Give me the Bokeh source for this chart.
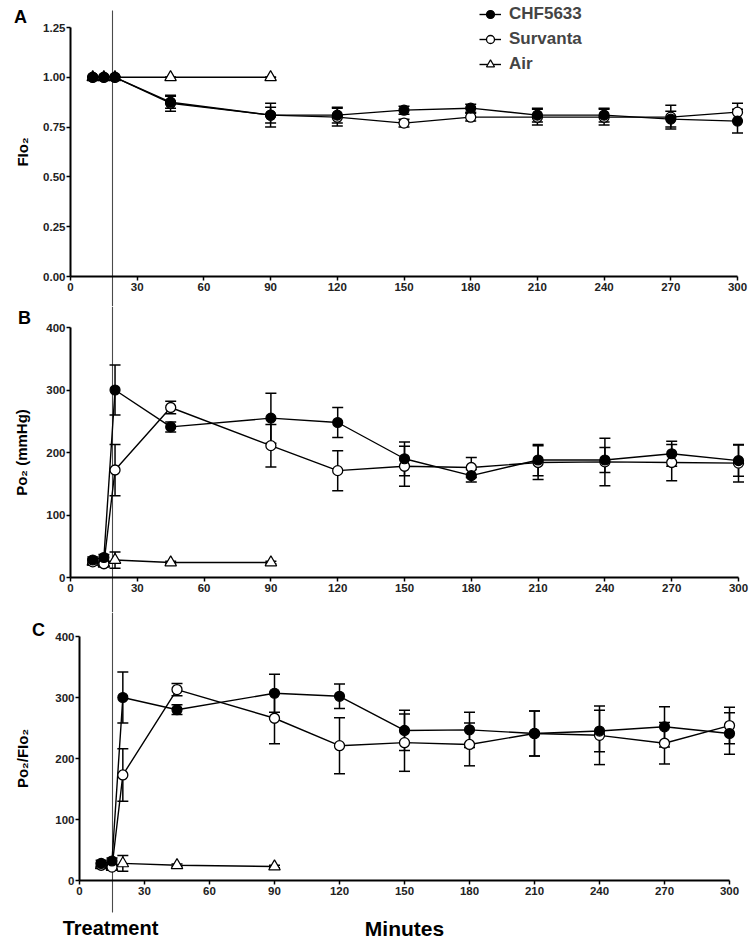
from bokeh.plotting import figure
from bokeh.models import (Range1d, FixedTicker, PrintfTickFormatter, Whisker, TeeHead,
                          ColumnDataSource, Legend, LegendItem, Label, BoxAnnotation)
from bokeh.layouts import column
from bokeh.embed import file_html
from bokeh.resources import INLINE

# ---------------- data ----------------
minutes = [10, 15, 20, 45, 90, 120, 150, 180, 210, 240, 270, 300]
air_minutes = [10, 15, 20, 45, 90]

fio2_chf = [1.0, 1.0, 1.0, 0.875, 0.81, 0.81, 0.835, 0.845, 0.81, 0.81, 0.79, 0.78]
fio2_chf_sem = [0, 0, 0, 0.03, 0.06, 0.04, 0.02, 0.02, 0.035, 0.035, 0.04, 0.06]
fio2_surv = [1.0, 1.0, 1.0, 0.87, 0.81, 0.80, 0.77, 0.80, 0.80, 0.80, 0.80, 0.825]
fio2_surv_sem = [0, 0, 0, 0.04, 0.04, 0.045, 0.02, 0.02, 0.04, 0.04, 0.06, 0.045]
fio2_air = [1.0, 1.0, 1.0, 1.0, 1.0]
fio2_air_sem = [0, 0, 0, 0, 0]

po2_chf = [28, 32, 300, 241, 255, 248, 190, 163, 188, 188, 198, 187]
po2_chf_sem = [5, 5, 40, 8, 40, 24, 27, 10, 25, 20, 20, 25]
po2_surv = [25, 22, 172, 272, 211, 171, 178, 176, 184, 185, 184, 183]
po2_surv_sem = [5, 4, 41, 10, 34, 32, 32, 16, 27, 38, 29, 30]
po2_air = [25, 22, 28, 24, 24]
po2_air_sem = [3, 3, 13, 2, 2]

ratio_chf = [28, 32, 300, 280, 307, 302, 246, 247, 241, 245, 252, 241]
ratio_chf_sem = [5, 5, 42, 8, 31, 20, 33, 29, 37, 34, 33, 34]
ratio_surv = [25, 22, 173, 313, 266, 221, 226, 223, 241, 238, 225, 254]
ratio_surv_sem = [5, 4, 43, 10, 42, 46, 47, 35, 37, 48, 34, 30]
ratio_air = [25, 22, 28, 25, 23]
ratio_air_sem = [3, 3, 13, 2, 2]

x_ticks = [0, 30, 60, 90, 120, 150, 180, 210, 240, 270, 300]
fio2_ticks = [0, 0.25, 0.5, 0.75, 1.0, 1.25]
po2_ticks = [0, 100, 200, 300, 400]
series_names = ["CHF5633", "Survanta", "Air"]

FONT = "Liberation Sans"
CANVAS_W = 755
TREATMENT_PX = 112      # canvas x of the treatment line
LINE_COLOR = "#4a4a4a"


def style_axis(ax, label_size="15px", standoff=8, tick_standoff=2):
    ax.axis_line_width = 2
    ax.axis_line_color = "black"
    ax.major_tick_line_width = 1.5
    ax.major_tick_line_color = "black"
    ax.major_tick_out = 4
    ax.major_tick_in = 0
    ax.minor_tick_in = 0
    ax.minor_tick_out = 0
    ax.major_label_text_font = FONT
    ax.major_label_text_font_style = "bold"
    ax.major_label_text_font_size = "11.5px"
    ax.major_label_text_color = "#222222"
    ax.major_label_standoff = tick_standoff
    ax.axis_label_text_font = FONT
    ax.axis_label_text_font_style = "bold"
    ax.axis_label_text_font_size = label_size
    ax.axis_label_text_color = "black"
    ax.axis_label_standoff = standoff


def make_panel(letter, height, px_x0, px_x300, px_ytop, px_y0, ymax, yticks, yfmt, ylabel,
               ylab_standoff, letter_xy, data, line_span, legend_loc=None, xlabel=None):
    # the plotting frame covers the whole canvas; the axes are pinned at x=0 / y=0
    ppx = (px_x300 - px_x0) / 300.0
    ppy = (px_y0 - px_ytop) / float(ymax)
    x_range = Range1d(-px_x0 / ppx, 300 + (CANVAS_W - px_x300) / ppx)
    y_range = Range1d(-(height - px_y0) / ppy, ymax + px_ytop / ppy)
    p = figure(width=CANVAS_W, height=height, x_range=x_range, y_range=y_range,
               output_backend="svg", toolbar_location=None, title=None,
               min_border=0, min_border_left=0, min_border_right=0,
               min_border_top=0, min_border_bottom=0)
    p.outline_line_color = None
    p.grid.visible = False
    p.background_fill_color = "white"
    p.border_fill_color = "white"

    xax, yax = p.xaxis[0], p.yaxis[0]
    xax.fixed_location = 0
    yax.fixed_location = 0
    xax.bounds = (0, 300)
    yax.bounds = (0, ymax)
    xax.ticker = FixedTicker(ticks=x_ticks)
    yax.ticker = FixedTicker(ticks=yticks)
    yax.formatter = PrintfTickFormatter(format=yfmt)
    style_axis(xax, label_size="21px", standoff=19, tick_standoff=2)
    style_axis(yax, label_size="15px", standoff=ylab_standoff, tick_standoff=1)
    yax.axis_label = ylabel
    if xlabel:
        xax.axis_label = xlabel

    # treatment line at a fixed page position
    t_treat = (TREATMENT_PX - px_x0) / ppx
    top_px, bot_px = line_span
    p.add_layout(BoxAnnotation(left=t_treat, right=t_treat,
                               top=height - top_px, bottom=height - bot_px,
                               top_units="screen", bottom_units="screen",
                               fill_alpha=0, line_color=LINE_COLOR, line_alpha=1.0,
                               line_width=1.1, level="underlay"))

    lx, ly = letter_xy
    p.add_layout(Label(x=lx, y=height - ly, x_units="screen", y_units="screen", text=letter,
                       text_font=FONT, text_font_style="bold", text_font_size="18px",
                       text_align="center", text_baseline="middle", text_color="black"))

    styles = {
        "CHF5633": dict(marker="circle", size=10, fill_color="black", line_width=1.2),
        "Survanta": dict(marker="circle", size=10, fill_color="white", line_width=1.3),
        "Air": dict(marker="triangle", size=11.5, fill_color="white", line_width=1.2),
    }
    lines, marks, srcs = {}, {}, {}
    for name, (xs, ys, es) in data.items():
        src = ColumnDataSource(dict(x=xs, y=ys,
                                    lo=[y - e for y, e in zip(ys, es)],
                                    hi=[y + e for y, e in zip(ys, es)]))
        srcs[name] = src
        p.add_layout(Whisker(source=src, base="x", lower="lo", upper="hi", dimension="height",
                             line_width=1.5, line_color="black", level="underlay",
                             upper_head=TeeHead(size=11, line_width=1.5, line_color="black"),
                             lower_head=TeeHead(size=11, line_width=1.5, line_color="black")))
    for name in ["Air", "Survanta", "CHF5633"]:
        lines[name] = p.line("x", "y", source=srcs[name], line_color="black", line_width=1.4)
    for name in ["Air", "Survanta", "CHF5633"]:
        st = styles[name]
        marks[name] = p.scatter("x", "y", source=srcs[name], marker=st["marker"], size=st["size"],
                                fill_color=st["fill_color"], line_color="black",
                                line_width=st["line_width"])

    if legend_loc is not None:
        items = [LegendItem(label=n, renderers=[lines[n], marks[n]]) for n in series_names]
        leg = Legend(items=items, location=(legend_loc[0], height - legend_loc[1]),
                     glyph_width=22, glyph_height=20, label_height=20, spacing=5,
                     padding=0, margin=0, border_line_color=None, background_fill_alpha=0,
                     label_text_font=FONT, label_text_font_style="bold",
                     label_text_font_size="17px", label_standoff=8)
        p.add_layout(leg)
    return p, t_treat


# panel A: page rows 0..306
pA, _ = make_panel("A", 306, 70, 737, 27, 276, 1.25, fio2_ticks, "%.2f", "FIo\u2082", 9,
                   (20, 16),
                   {"CHF5633": (minutes, fio2_chf, fio2_chf_sem),
                    "Survanta": (minutes, fio2_surv, fio2_surv_sem),
                    "Air": (air_minutes, fio2_air, fio2_air_sem)},
                   line_span=(10, 306), legend_loc=(479, 74))
# panel B: page rows 306..612
pB, _ = make_panel("B", 306, 70, 738, 21, 271, 400, po2_ticks, "%d", "Po\u2082 (mmHg)", 13,
                   (24, 11),
                   {"CHF5633": (minutes, po2_chf, po2_chf_sem),
                    "Survanta": (minutes, po2_surv, po2_surv_sem),
                    "Air": (air_minutes, po2_air, po2_air_sem)},
                   line_span=(0, 306))
# panel C: page rows 612..941
pC, _ = make_panel("C", 329, 79, 729, 24, 268, 400, po2_ticks, "%d", "Po\u2082/FIo\u2082", 21,
                   (38, 17),
                   {"CHF5633": (minutes, ratio_chf, ratio_chf_sem),
                    "Survanta": (minutes, ratio_surv, ratio_surv_sem),
                    "Air": (air_minutes, ratio_air, ratio_air_sem)},
                   line_span=(0, 300), xlabel="Minutes")
pC.add_layout(Label(x=110, y=14, x_units="screen", y_units="screen", text="Treatment",
                    text_font=FONT, text_font_style="bold", text_font_size="20px",
                    text_align="center", text_baseline="middle", text_color="black"))

layout = column(pA, pB, pC, spacing=0)
open("out.html", "w").write(file_html(layout, INLINE))
